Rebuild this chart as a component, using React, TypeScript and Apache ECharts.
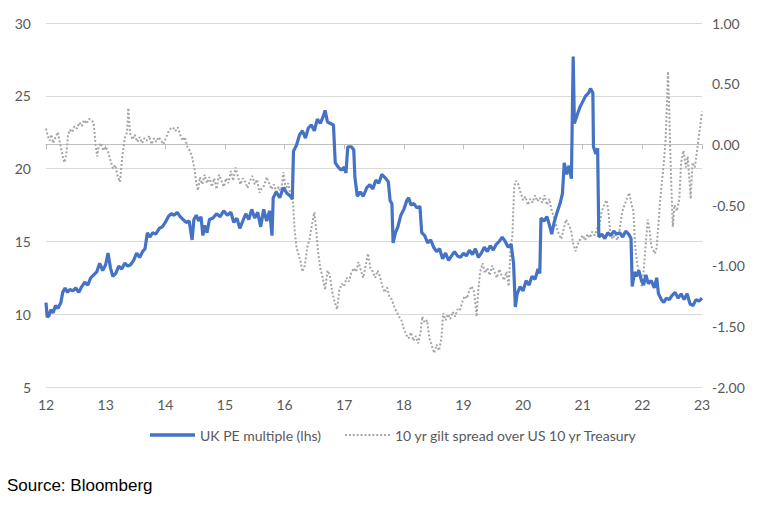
import React, { useEffect, useRef } from "react";
import * as echarts from "echarts";

const xTicks = [12, 13, 14, 15, 16, 17, 18, 19, 20, 21, 22, 23];
const leftTicks = [5, 10, 15, 20, 25, 30];
const rightTicks = [-2, -1.5, -1, -0.5, 0, 0.5, 1];

const peSeriesName = "UK PE multiple (lhs)";
const spreadSeriesName = "10 yr gilt spread over US 10 yr Treasury";

const pe: [number, number][] = [
  [12.0, 10.8], [12.02, 9.8], [12.05, 9.9], [12.08, 10.3], [12.12, 10.1], [12.16, 10.6], [12.2, 10.4], [12.25, 10.8],
  [12.28, 11.5], [12.32, 11.8], [12.36, 11.5], [12.4, 11.7], [12.45, 11.6], [12.5, 11.8], [12.55, 11.5], [12.6, 11.9],
  [12.65, 12.2], [12.7, 12.0], [12.75, 12.5], [12.8, 12.7], [12.85, 12.9], [12.9, 13.5], [12.95, 13.0], [13.0, 13.4],
  [13.04, 14.2], [13.08, 13.2], [13.12, 12.6], [13.17, 12.8], [13.22, 13.3], [13.27, 13.1], [13.32, 13.5], [13.37, 13.3],
  [13.42, 13.4], [13.47, 13.7], [13.52, 14.2], [13.57, 13.9], [13.62, 14.3], [13.66, 14.5], [13.7, 15.6], [13.74, 15.3],
  [13.79, 15.6], [13.84, 15.5], [13.9, 15.9], [13.95, 16.0], [14.0, 16.3], [14.05, 16.7], [14.1, 16.9], [14.15, 16.8],
  [14.2, 17.0], [14.25, 16.7], [14.3, 16.5], [14.35, 16.3], [14.4, 16.4], [14.45, 15.1], [14.48, 16.5], [14.52, 16.8],
  [14.56, 16.4], [14.6, 16.7], [14.63, 15.4], [14.66, 16.1], [14.7, 15.6], [14.74, 16.5], [14.8, 16.6], [14.86, 16.9],
  [14.92, 16.7], [14.98, 17.1], [15.04, 16.8], [15.1, 17.0], [15.15, 16.3], [15.2, 16.6], [15.25, 15.9], [15.3, 16.4],
  [15.35, 16.9], [15.4, 16.5], [15.45, 17.2], [15.5, 16.6], [15.55, 17.0], [15.6, 16.0], [15.65, 17.2], [15.7, 16.4],
  [15.75, 17.1], [15.79, 15.4], [15.81, 18.0], [15.86, 18.4], [15.92, 18.0], [15.98, 18.7], [16.04, 18.3], [16.1, 18.1],
  [16.13, 17.9], [16.15, 21.2], [16.2, 21.6], [16.25, 22.3], [16.3, 22.6], [16.35, 22.1], [16.4, 22.8], [16.45, 23.0],
  [16.5, 22.6], [16.55, 23.4], [16.6, 23.1], [16.65, 23.6], [16.68, 24.0], [16.72, 23.2], [16.77, 23.1], [16.82, 23.0],
  [16.85, 20.4], [16.9, 20.1], [16.95, 19.9], [17.0, 20.1], [17.03, 19.7], [17.06, 21.5], [17.12, 21.5], [17.16, 21.3],
  [17.18, 19.4], [17.22, 18.1], [17.27, 18.4], [17.32, 18.1], [17.38, 18.7], [17.43, 18.9], [17.48, 18.6], [17.53, 19.2],
  [17.58, 19.0], [17.63, 19.6], [17.68, 19.4], [17.74, 19.1], [17.77, 17.8], [17.8, 17.6], [17.82, 14.9], [17.86, 15.6],
  [17.9, 16.0], [17.95, 16.8], [18.0, 17.2], [18.05, 17.8], [18.08, 18.0], [18.12, 17.5], [18.17, 17.6], [18.22, 17.3],
  [18.27, 17.4], [18.3, 15.6], [18.35, 15.4], [18.4, 14.9], [18.45, 15.1], [18.5, 14.6], [18.55, 14.3], [18.6, 14.5],
  [18.65, 13.8], [18.7, 14.2], [18.75, 13.7], [18.8, 14.0], [18.85, 14.3], [18.9, 14.0], [18.95, 13.9], [19.0, 14.2],
  [19.05, 14.0], [19.1, 14.4], [19.15, 14.1], [19.2, 14.5], [19.25, 13.9], [19.3, 14.2], [19.35, 14.6], [19.4, 14.3],
  [19.45, 14.7], [19.5, 14.4], [19.55, 14.8], [19.6, 15.0], [19.65, 15.3], [19.7, 15.0], [19.75, 14.6], [19.8, 14.8],
  [19.84, 13.5], [19.87, 10.5], [19.9, 11.4], [19.95, 11.9], [20.0, 11.6], [20.05, 12.3], [20.1, 12.0], [20.15, 12.6],
  [20.2, 12.4], [20.25, 13.1], [20.28, 12.8], [20.3, 16.6], [20.35, 16.4], [20.4, 16.7], [20.45, 16.0], [20.48, 15.5],
  [20.52, 16.3], [20.57, 17.0], [20.62, 17.6], [20.66, 18.3], [20.69, 20.4], [20.73, 19.6], [20.77, 20.2], [20.81, 19.3],
  [20.84, 27.7], [20.86, 23.1], [20.9, 23.6], [20.95, 24.2], [21.0, 24.6], [21.05, 25.0], [21.1, 25.2], [21.13, 25.5],
  [21.17, 25.2], [21.18, 21.5], [21.22, 21.0], [21.25, 21.4], [21.27, 15.3], [21.32, 15.5], [21.37, 15.2], [21.42, 15.6],
  [21.47, 15.4], [21.52, 15.7], [21.57, 15.5], [21.62, 15.6], [21.67, 15.3], [21.72, 15.7], [21.77, 15.5], [21.81, 15.2],
  [21.83, 11.9], [21.87, 12.9], [21.9, 12.6], [21.94, 13.0], [21.98, 12.4], [22.02, 12.0], [22.06, 12.7], [22.1, 12.1],
  [22.15, 12.3], [22.2, 11.8], [22.24, 12.5], [22.27, 11.4], [22.32, 11.0], [22.36, 10.8], [22.4, 11.1], [22.45, 11.0],
  [22.5, 11.3], [22.55, 11.5], [22.6, 11.1], [22.65, 11.4], [22.7, 11.0], [22.75, 11.4], [22.8, 10.7], [22.85, 10.6],
  [22.9, 11.0], [22.95, 10.9], [23.0, 11.1],
];

const spread: [number, number][] = [
  [12.0, 0.13], [12.03, 0.07], [12.06, 0.03], [12.09, 0.08], [12.12, 0.01], [12.16, 0.06], [12.2, 0.1], [12.23, 0.02],
  [12.26, -0.05], [12.29, -0.12], [12.31, -0.15], [12.34, -0.08], [12.37, 0.08], [12.4, 0.12], [12.44, 0.1], [12.48, 0.15],
  [12.52, 0.13], [12.56, 0.18], [12.6, 0.15], [12.64, 0.2], [12.68, 0.17], [12.72, 0.21], [12.76, 0.2], [12.8, 0.18],
  [12.83, 0.0], [12.86, -0.1], [12.88, -0.02], [12.92, 0.01], [12.96, -0.05], [13.0, -0.02], [13.04, -0.06], [13.08, -0.13],
  [13.12, -0.2], [13.16, -0.17], [13.2, -0.26], [13.24, -0.31], [13.28, -0.1], [13.32, 0.05], [13.36, 0.1], [13.38, 0.3],
  [13.41, 0.09], [13.45, 0.04], [13.49, 0.08], [13.53, 0.02], [13.57, 0.06], [13.61, 0.01], [13.65, 0.05], [13.69, 0.03],
  [13.73, 0.07], [13.77, 0.0], [13.81, 0.05], [13.85, 0.02], [13.89, 0.06], [13.93, 0.03], [13.97, 0.0], [14.01, 0.05],
  [14.05, 0.1], [14.09, 0.13], [14.13, 0.14], [14.17, 0.11], [14.21, 0.14], [14.25, 0.08], [14.29, 0.03], [14.33, 0.06],
  [14.37, -0.02], [14.41, -0.05], [14.45, -0.1], [14.49, -0.2], [14.52, -0.32], [14.55, -0.38], [14.58, -0.27], [14.62, -0.33],
  [14.66, -0.25], [14.7, -0.32], [14.74, -0.27], [14.78, -0.35], [14.82, -0.28], [14.86, -0.37], [14.9, -0.25], [14.94, -0.3],
  [14.98, -0.35], [15.02, -0.28], [15.06, -0.32], [15.1, -0.22], [15.14, -0.3], [15.18, -0.19], [15.22, -0.27], [15.26, -0.33],
  [15.3, -0.28], [15.34, -0.31], [15.38, -0.36], [15.42, -0.3], [15.46, -0.26], [15.5, -0.33], [15.54, -0.29], [15.58, -0.4],
  [15.62, -0.36], [15.66, -0.34], [15.7, -0.27], [15.74, -0.32], [15.78, -0.37], [15.82, -0.33], [15.86, -0.39], [15.9, -0.35],
  [15.94, -0.4], [15.98, -0.23], [16.02, -0.37], [16.06, -0.32], [16.1, -0.42], [16.14, -0.46], [16.17, -0.71], [16.2, -0.85],
  [16.23, -0.9], [16.27, -0.97], [16.3, -1.05], [16.34, -1.0], [16.38, -0.85], [16.42, -0.78], [16.46, -0.66], [16.5, -0.56],
  [16.53, -0.7], [16.56, -0.88], [16.6, -1.02], [16.64, -1.1], [16.68, -1.2], [16.72, -1.04], [16.76, -1.08], [16.8, -1.22],
  [16.84, -1.3], [16.88, -1.36], [16.92, -1.2], [16.96, -1.15], [17.0, -1.17], [17.04, -1.1], [17.08, -1.13], [17.12, -1.06],
  [17.16, -1.02], [17.2, -1.05], [17.24, -0.97], [17.28, -1.04], [17.32, -1.1], [17.36, -1.0], [17.4, -0.9], [17.44, -1.02],
  [17.48, -1.05], [17.52, -1.1], [17.56, -1.04], [17.6, -1.09], [17.64, -1.17], [17.68, -1.22], [17.72, -1.18], [17.76, -1.26],
  [17.8, -1.28], [17.84, -1.34], [17.88, -1.38], [17.92, -1.42], [17.96, -1.45], [18.0, -1.52], [18.04, -1.57], [18.08, -1.6],
  [18.12, -1.55], [18.16, -1.62], [18.2, -1.58], [18.24, -1.64], [18.28, -1.55], [18.31, -1.42], [18.35, -1.47], [18.39, -1.45],
  [18.43, -1.6], [18.47, -1.66], [18.51, -1.72], [18.55, -1.65], [18.59, -1.7], [18.63, -1.6], [18.66, -1.39], [18.7, -1.45],
  [18.74, -1.4], [18.78, -1.44], [18.82, -1.38], [18.86, -1.42], [18.9, -1.36], [18.94, -1.37], [18.98, -1.3], [19.02, -1.25],
  [19.06, -1.27], [19.1, -1.2], [19.14, -1.17], [19.18, -1.22], [19.22, -1.42], [19.25, -1.2], [19.28, -1.05], [19.32, -0.98],
  [19.36, -1.06], [19.4, -1.02], [19.44, -1.08], [19.48, -1.0], [19.52, -1.05], [19.56, -1.1], [19.6, -1.03], [19.64, -1.08],
  [19.68, -1.12], [19.72, -1.05], [19.76, -1.17], [19.79, -0.85], [19.82, -0.76], [19.85, -0.35], [19.88, -0.3], [19.92, -0.33],
  [19.96, -0.4], [20.0, -0.46], [20.04, -0.43], [20.08, -0.5], [20.12, -0.45], [20.16, -0.48], [20.2, -0.42], [20.24, -0.47],
  [20.28, -0.44], [20.32, -0.48], [20.36, -0.42], [20.4, -0.5], [20.44, -0.45], [20.48, -0.55], [20.52, -0.6], [20.56, -0.68],
  [20.6, -0.74], [20.64, -0.78], [20.68, -0.7], [20.72, -0.62], [20.76, -0.66], [20.8, -0.7], [20.84, -0.82], [20.88, -0.88],
  [20.92, -0.82], [20.96, -0.78], [21.0, -0.75], [21.04, -0.79], [21.08, -0.74], [21.12, -0.77], [21.16, -0.72], [21.2, -0.75],
  [21.24, -0.7], [21.28, -0.66], [21.32, -0.55], [21.36, -0.5], [21.4, -0.46], [21.43, -0.55], [21.46, -0.72], [21.5, -0.78],
  [21.54, -0.74], [21.58, -0.79], [21.62, -0.7], [21.66, -0.56], [21.7, -0.5], [21.74, -0.45], [21.78, -0.4], [21.82, -0.5],
  [21.85, -0.55], [21.88, -0.85], [21.92, -1.0], [21.96, -1.1], [21.99, -1.17], [22.02, -1.05], [22.06, -0.8], [22.09, -0.62],
  [22.12, -0.7], [22.15, -0.84], [22.18, -0.87], [22.21, -0.9], [22.24, -0.85], [22.27, -0.65], [22.3, -0.45], [22.33, -0.3],
  [22.36, -0.15], [22.39, 0.04], [22.41, 0.3], [22.43, 0.6], [22.45, 0.3], [22.47, -0.1], [22.49, -0.4], [22.51, -0.68],
  [22.54, -0.5], [22.58, -0.55], [22.62, -0.45], [22.65, -0.15], [22.69, -0.05], [22.73, -0.19], [22.76, -0.1], [22.79, -0.3],
  [22.81, -0.45], [22.84, -0.15], [22.88, -0.19], [22.91, -0.08], [22.94, 0.04], [22.97, 0.15], [23.0, 0.27],
];

const FONT = "Lato, 'Open Sans', sans-serif";
const TEXT = "#595959";

const dottedIcon =
  "path://" +
  Array.from({ length: 12 }, (_, i) => `M${i * 4},0h2v2h-2z`).join(" ");

export default function App() {
  const ref = useRef<HTMLDivElement>(null);
  useEffect(() => {
    document.body.style.margin = "0";
    const chart = echarts.init(ref.current!, null, { renderer: "svg" });
    chart.setOption({
      animation: false,
      backgroundColor: "#ffffff",
      grid: { left: 46, right: 62, top: 23, bottom: 124, containLabel: false },
      legend: {
        bottom: 64,
        left: 145,
        itemWidth: 45,
        itemHeight: 12,
        itemGap: 24,
        textStyle: { fontFamily: FONT, fontSize: 14, color: TEXT },
        data: [
          { name: peSeriesName, icon: "path://M0,0H45V3.5H0Z", itemStyle: { color: "#4472C4" } },
          { name: spreadSeriesName, icon: dottedIcon, itemStyle: { color: "#A5A5A5" } },
        ],
      },
      xAxis: {
        type: "value",
        min: xTicks[0],
        max: xTicks[xTicks.length - 1],
        interval: 1,
        axisLine: { show: true, lineStyle: { color: "#BFBFBF", width: 1 } },
        axisTick: { show: true, length: 5, lineStyle: { color: "#BFBFBF" } },
        splitLine: { show: false },
        axisLabel: { color: TEXT, fontFamily: FONT, fontSize: 14, margin: 10, formatter: (v: number) => String(v) },
      },
      yAxis: [
        {
          type: "value",
          min: leftTicks[0],
          max: leftTicks[leftTicks.length - 1],
          interval: 5,
          position: "left",
          axisLine: { show: false },
          axisTick: { show: false },
          splitLine: { show: true, lineStyle: { color: "#D9D9D9", width: 1 } },
          axisLabel: { color: TEXT, fontFamily: FONT, fontSize: 14, margin: 15 },
        },
        {
          type: "value",
          min: rightTicks[0],
          max: rightTicks[rightTicks.length - 1],
          interval: 0.5,
          position: "right",
          axisLine: { show: false },
          axisTick: { show: false },
          splitLine: { show: false },
          axisLabel: { color: TEXT, fontFamily: FONT, fontSize: 14, margin: 10, formatter: (v: number) => v.toFixed(2) },
        },
      ],
      series: [
        {
          name: spreadSeriesName,
          type: "line",
          yAxisIndex: 1,
          data: spread,
          showSymbol: false,
          symbol: "none",
          lineStyle: { color: "#A5A5A5", width: 2, type: [2, 2] },
          itemStyle: { color: "#A5A5A5" },
          z: 2,
        },
        {
          name: peSeriesName,
          type: "line",
          yAxisIndex: 0,
          data: pe,
          showSymbol: false,
          symbol: "none",
          lineStyle: { color: "#4472C4", width: 3.2 },
          itemStyle: { color: "#4472C4" },
          z: 3,
        },
      ],
      graphic: [
        {
          type: "text",
          left: 7,
          top: 477,
          style: { text: "Source: Bloomberg", font: "17px 'Liberation Sans', Arial, sans-serif", fill: "#000000" },
        },
      ],
    });
    return () => chart.dispose();
  }, []);
  return <div ref={ref} style={{ width: 764, height: 511 }} />;
}
